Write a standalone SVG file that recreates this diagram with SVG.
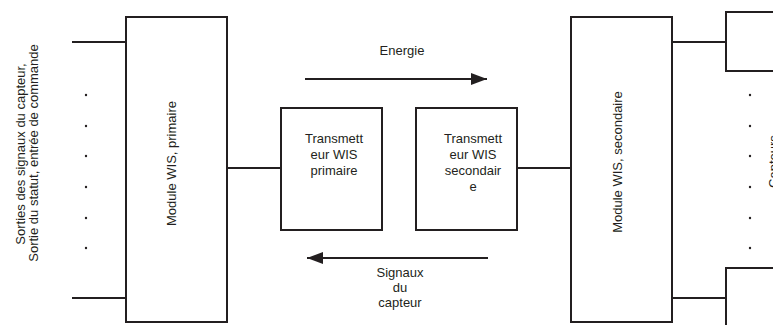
<svg xmlns="http://www.w3.org/2000/svg" width="773" height="325" viewBox="0 0 773 325">
<defs>
<style>
.box{fill:#fff;stroke:#231f20;stroke-width:2}
.ln{fill:none;stroke:#231f20;stroke-width:2}
.t{font-family:"Liberation Sans",Arial,sans-serif;font-size:13px;fill:#231f20;text-anchor:middle}
.dot{fill:#231f20}
</style>
<marker id="ah" markerWidth="8" markerHeight="6" refX="8" refY="3" orient="auto" markerUnits="strokeWidth">
<path d="M0,0 L8,3 L0,6 Z" fill="#231f20"/>
</marker>
</defs>
<rect width="773" height="325" fill="#fff"/>
<g id="connectors">
<line class="ln" x1="72" y1="42" x2="126" y2="42"/>
<line class="ln" x1="72" y1="298" x2="126" y2="298"/>
<line class="ln" x1="227" y1="168" x2="281" y2="168"/>
<line class="ln" x1="517" y1="168" x2="571" y2="168"/>
<line class="ln" x1="672" y1="42" x2="726" y2="42"/>
<line class="ln" x1="672" y1="298" x2="726" y2="298"/>
<line class="ln" x1="305" y1="79" x2="487" y2="79" marker-end="url(#ah)"/>
<line class="ln" x1="488" y1="258" x2="307" y2="258" marker-end="url(#ah)"/>
</g>
<g id="left-label">
<text class="t" transform="translate(25,154) rotate(-90)">Sorties des signaux du capteur,</text>
<text class="t" transform="translate(38,153) rotate(-90)">Sortie du statut, entrée de commande</text>
<circle class="dot" cx="86" cy="95" r="1.2"/>
<circle class="dot" cx="86" cy="126" r="1.2"/>
<circle class="dot" cx="86" cy="156" r="1.2"/>
<circle class="dot" cx="86" cy="187" r="1.2"/>
<circle class="dot" cx="86" cy="218" r="1.2"/>
<circle class="dot" cx="86" cy="248" r="1.2"/>
</g>
<g id="module-primaire">
<rect class="box" x="126" y="17" width="101" height="305"/>
<text class="t" transform="translate(176,163.5) rotate(-90)">Module WIS, primaire</text>
</g>
<g id="transmetteur-primaire">
<rect class="box" x="281" y="108" width="101" height="122"/>
<text class="t" x="334" y="143">Transmett</text>
<text class="t" x="334" y="159">eur WIS</text>
<text class="t" x="334" y="175">primaire</text>
</g>
<g id="transmetteur-secondaire">
<rect class="box" x="416" y="108" width="101" height="122"/>
<text class="t" x="473" y="143">Transmett</text>
<text class="t" x="473" y="159">eur WIS</text>
<text class="t" x="473" y="175">secondair</text>
<text class="t" x="473" y="191">e</text>
</g>
<g id="energie">
<text class="t" x="402" y="55">Energie</text>
</g>
<g id="signaux">
<text class="t" x="400" y="277">Signaux</text>
<text class="t" x="400" y="292">du</text>
<text class="t" x="400" y="307">capteur</text>
</g>
<g id="module-secondaire">
<rect class="box" x="571" y="17" width="101" height="305"/>
<text class="t" transform="translate(622,162) rotate(-90)">Module WIS, secondaire</text>
</g>
<g id="capteurs">
<rect class="box" x="726" y="12" width="60" height="59"/>
<rect class="box" x="726" y="268" width="60" height="70"/>
<circle class="dot" cx="750" cy="95" r="1.2"/>
<circle class="dot" cx="750" cy="126" r="1.2"/>
<circle class="dot" cx="750" cy="156" r="1.2"/>
<circle class="dot" cx="750" cy="187" r="1.2"/>
<circle class="dot" cx="750" cy="218" r="1.2"/>
<circle class="dot" cx="750" cy="248" r="1.2"/>
<text class="t" transform="translate(777.5,161.5) rotate(-90)">Capteurs</text>
</g>
</svg>
